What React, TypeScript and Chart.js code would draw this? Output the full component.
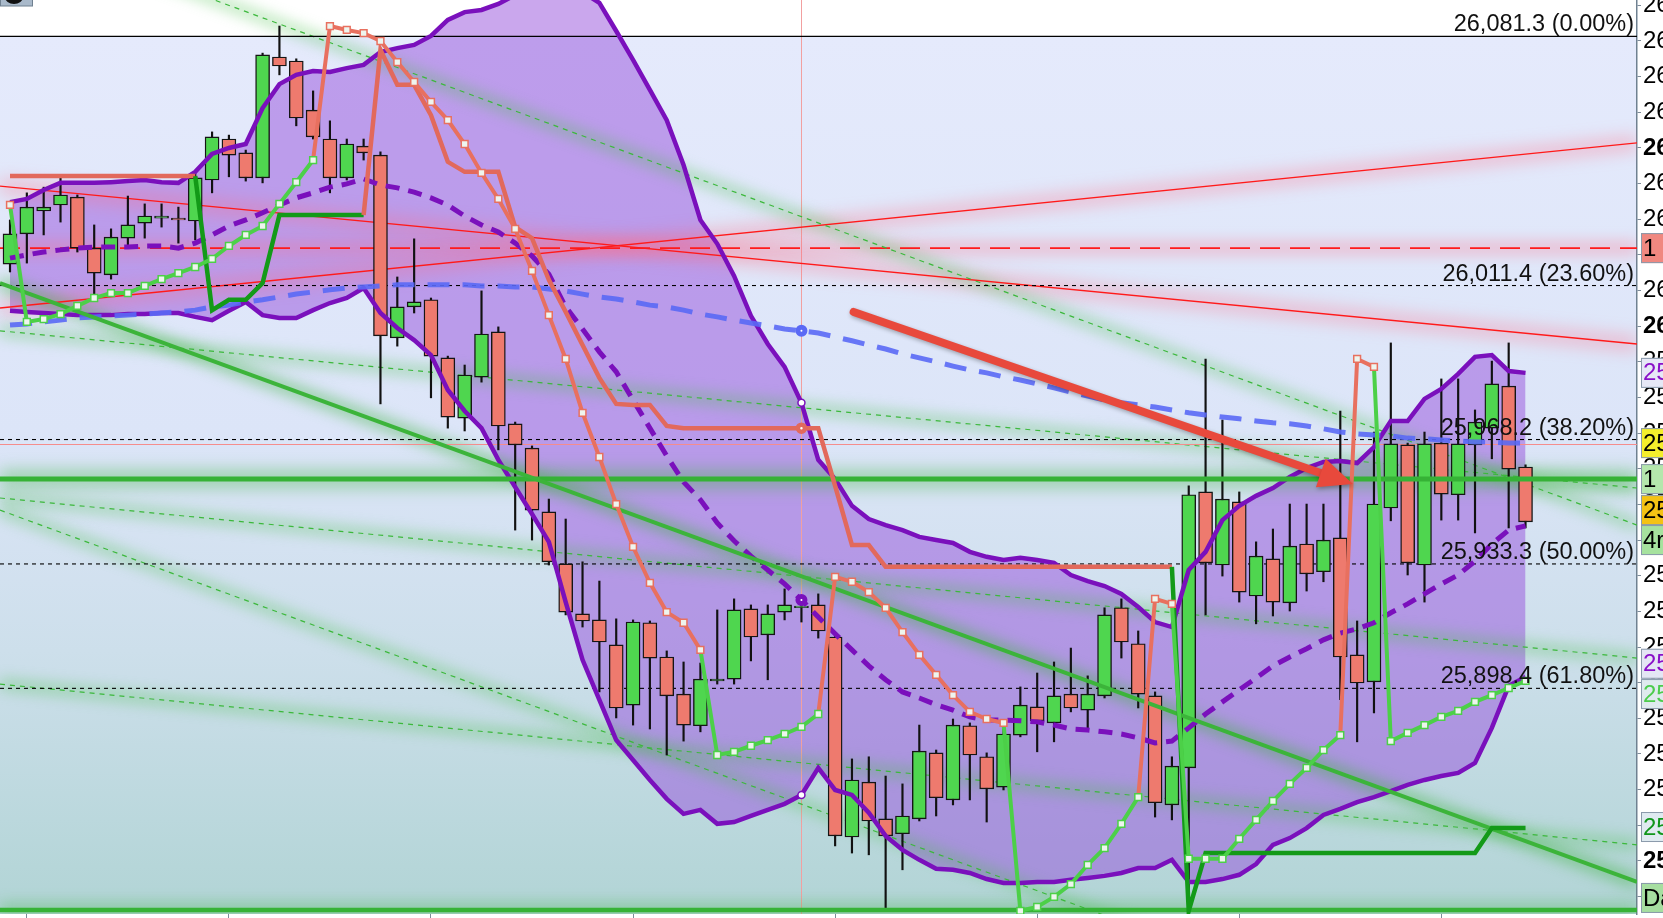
import React, { useEffect, useRef } from 'react';
import { Chart, registerables } from 'chart.js';

Chart.register(...registerables);

// ---------- candles (index 0..90) ----------
const opens = [26017.4, 26025.9, 26032.3, 26034.0, 26036.2, 26021.9, 26014.4, 26024.7, 26028.9, 26030.3,
  26030.3, 26029.5, 26041.0, 26052.5, 26048.6, 26041.6, 26075.5, 26074.4, 26060.6, 26052.5,
  26041.6, 26050.5, 26048.0, 25996.7, 26005.4, 26007.4, 25991.1, 25974.2, 25985.7, 25998.4,
  25972.6, 25965.8, 25947.9, 25933.3, 25919.3, 25917.6, 25910.6, 25893.7, 25916.8, 25907.2,
  25896.8, 25887.9, 25900.5, 25901.0, 25920.7, 25913.4, 25919.8, 25921.0, 25921.8, 25912.8,
  25856.7, 25872.1, 25861.8, 25857.6, 25861.8, 25880.3, 25867.1, 25887.9, 25879.2, 25870.7,
  25885.3, 25893.2, 25888.7, 25896.8, 25892.3, 25896.3, 25921.0, 25910.9, 25896.3, 25865.7,
  25876.1, 25953.5, 25933.0, 25950.7, 25924.3, 25934.7, 25922.4, 25938.9, 25931.1, 25940.6,
  25907.8, 25900.2, 25949.0, 25966.7, 25933.0, 25967.2, 25952.7, 25966.7, 25971.4, 25983.2,
  25960.5];
const highs = [26029.8, 26037.4, 26039.0, 26041.6, 26036.8, 26028.4, 26027.3, 26036.5, 26034.3, 26034.3,
  26033.4, 26043.0, 26054.5, 26053.6, 26049.4, 26076.6, 26084.2, 26075.0, 26066.0, 26057.6,
  26052.5, 26052.5, 26048.9, 26013.8, 26024.5, 26007.9, 25991.6, 25989.1, 26009.9, 25999.8,
  25973.1, 25966.4, 25951.5, 25945.9, 25933.9, 25928.5, 25917.9, 25917.6, 25917.3, 25908.9,
  25905.8, 25905.5, 25920.4, 25923.5, 25921.8, 25921.8, 25926.3, 25923.2, 25924.9, 25913.4,
  25878.6, 25879.2, 25873.8, 25871.6, 25888.1, 25881.1, 25889.8, 25888.7, 25880.3, 25888.1,
  25898.8, 25902.7, 25905.8, 25909.7, 25901.9, 25921.0, 25923.5, 25914.5, 25897.4, 25879.2,
  25955.2, 25990.8, 25973.7, 25953.5, 25939.5, 25943.1, 25950.1, 25950.1, 25950.1, 25976.2,
  25917.3, 25970.3, 25995.3, 25967.2, 25970.3, 25985.2, 25985.2, 25976.5, 25990.2, 25995.3,
  25961.1];
const lows = [26015.2, 26017.7, 26025.6, 26029.2, 26020.8, 26008.2, 26013.2, 26021.9, 26024.7, 26027.8,
  26023.3, 26024.2, 26037.4, 26041.9, 26040.7, 26040.2, 26070.5, 26056.2, 26052.5, 26037.4,
  26041.0, 26046.6, 25978.2, 25994.4, 26003.7, 25979.9, 25971.4, 25970.6, 25984.3, 25965.3,
  25942.8, 25940.0, 25933.0, 25919.0, 25915.6, 25897.4, 25890.1, 25888.1, 25887.0, 25879.7,
  25883.6, 25886.2, 25899.6, 25899.6, 25906.1, 25900.8, 25917.6, 25917.0, 25912.5, 25854.2,
  25852.2, 25851.7, 25836.2, 25847.5, 25861.2, 25862.6, 25865.7, 25867.1, 25860.9, 25869.9,
  25884.8, 25880.6, 25883.4, 25891.8, 25887.0, 25895.7, 25906.9, 25892.9, 25862.3, 25861.5,
  25837.6, 25919.0, 25929.9, 25922.6, 25916.5, 25918.7, 25920.1, 25925.7, 25928.3, 25895.2,
  25883.4, 25891.5, 25945.4, 25930.2, 25922.6, 25945.6, 25945.6, 25942.0, 25962.8, 25943.4,
  25943.4];
const closes = [26025.9, 26033.4, 26033.4, 26036.8, 26021.9, 26014.9, 26025.0, 26028.4, 26030.9, 26030.9,
  26029.8, 26041.6, 26053.1, 26048.0, 26041.6, 26076.1, 26073.0, 26058.4, 26053.1, 26041.6,
  26051.1, 26048.6, 25997.3, 26005.4, 26006.8, 25991.6, 25974.5, 25986.3, 25997.8, 25972.0,
  25966.7, 25948.4, 25933.9, 25919.8, 25917.3, 25911.4, 25892.9, 25917.0, 25906.9, 25896.3,
  25888.1, 25901.0, 25901.0, 25920.4, 25912.8, 25919.3, 25921.8, 25921.5, 25914.5, 25857.0,
  25872.7, 25861.2, 25857.0, 25862.6, 25880.8, 25867.7, 25888.1, 25879.7, 25870.2, 25885.6,
  25893.7, 25889.3, 25896.3, 25892.9, 25896.8, 25919.0, 25911.4, 25896.8, 25866.3, 25876.6,
  25952.7, 25933.6, 25951.5, 25925.4, 25935.5, 25922.6, 25938.3, 25930.5, 25940.0, 25907.2,
  25899.9, 25950.1, 25967.0, 25933.6, 25967.0, 25952.9, 25967.0, 25973.1, 25983.8, 25959.9,
  25945.1];

// ---------- indicators ----------
const bbUpper = [26034.8, 26035.7, 26038.2, 26040.2, 26040.2, 26040.2, 26040.4, 26040.7, 26041.0, 26040.4,
  26040.2, 26043.3, 26048.3, 26050.0, 26051.1, 26061.2, 26067.9, 26070.5, 26071.6, 26071.3,
  26072.4, 26073.3, 26076.9, 26078.0, 26078.9, 26081.4, 26085.9, 26088.1, 26088.7, 26090.4,
  26092.9, 26094.9, 26095.7, 26095.4, 26093.7, 26090.7, 26082.8, 26074.7, 26066.3, 26057.8,
  26045.2, 26029.8, 26023.1, 26014.1, 26002.9, 25995.0, 25988.6, 25978.5, 25962.5, 25957.1,
  25949.6, 25945.9, 25944.2, 25942.8, 25940.9, 25940.0, 25939.2, 25936.7, 25935.3, 25934.4,
  25935.0, 25934.4, 25933.6, 25930.2, 25928.5, 25927.1, 25924.9, 25921.2, 25917.0, 25915.6,
  25931.6, 25936.7, 25945.6, 25949.6, 25952.4, 25954.6, 25957.7, 25960.2, 25961.9, 25962.2,
  25961.6, 25966.1, 25973.4, 25973.4, 25979.6, 25982.4, 25986.6, 25991.4, 25991.9, 25987.4,
  25986.9];
const bbMiddle = [26019.1, 26020.0, 26020.8, 26021.4, 26021.9, 26022.2, 26022.2, 26022.2, 26022.5, 26022.5,
  26021.9, 26023.3, 26025.6, 26028.1, 26029.8, 26031.8, 26034.0, 26036.0, 26037.4, 26039.0,
  26039.9, 26041.3, 26039.6, 26038.8, 26037.6, 26036.0, 26034.0, 26030.9, 26028.4, 26026.4,
  26023.3, 26019.7, 26014.6, 26005.4, 25999.2, 25992.8, 25987.2, 25979.3, 25971.4, 25963.6,
  25956.3, 25951.3, 25944.8, 25939.8, 25935.5, 25931.6, 25927.7, 25923.2, 25918.4, 25913.7,
  25909.2, 25904.7, 25900.8, 25897.4, 25895.7, 25893.8, 25892.3, 25890.4, 25889.5, 25889.5,
  25889.3, 25889.0, 25888.1, 25887.0, 25886.7, 25886.2, 25885.6, 25884.5, 25883.1, 25883.6,
  25887.3, 25891.2, 25894.6, 25898.0, 25901.3, 25904.7, 25907.2, 25909.5, 25912.0, 25913.9,
  25915.1, 25916.8, 25919.6, 25922.1, 25924.9, 25927.7, 25930.2, 25934.1, 25938.9, 25942.8,
  25944.0];
const bbLower = [26004.3, 26004.0, 26003.7, 26003.4, 26003.1, 26003.1, 26003.1, 26003.4, 26003.4, 26003.7,
  26003.7, 26002.6, 26001.7, 26004.3, 26006.8, 26003.1, 26002.3, 26002.3, 26004.5, 26006.5,
  26007.9, 26010.7, 26003.7, 25999.5, 25996.1, 25991.9, 25982.1, 25976.2, 25971.4, 25962.5,
  25954.9, 25947.3, 25939.5, 25922.6, 25906.4, 25895.2, 25883.9, 25878.3, 25872.7, 25867.4,
  25863.2, 25864.3, 25860.4, 25860.9, 25862.6, 25864.3, 25866.0, 25868.5, 25876.1, 25869.9,
  25868.5, 25863.5, 25857.0, 25853.1, 25850.3, 25847.8, 25847.5, 25846.6, 25844.9, 25843.8,
  25843.8, 25844.1, 25844.1, 25844.7, 25845.2, 25845.8, 25846.6, 25848.0, 25848.0, 25850.3,
  25844.1, 25844.1, 25844.9, 25846.1, 25849.1, 25854.5, 25856.4, 25859.2, 25862.9, 25864.6,
  25866.5, 25867.9, 25869.6, 25871.3, 25872.7, 25873.8, 25874.7, 25877.5, 25887.3, 25899.1,
  25901.6];
const maLong = [26000.3, 26000.6, 26001.2, 26001.7, 26002.3, 26002.6, 26002.9, 26003.1, 26003.4, 26003.7,
  26004.0, 26004.5, 26005.4, 26005.9, 26006.8, 26007.4, 26008.2, 26009.0, 26009.6, 26010.2,
  26010.7, 26011.0, 26011.3, 26011.6, 26011.6, 26011.6, 26011.6, 26011.6, 26011.3, 26011.3,
  26011.0, 26011.0, 26010.4, 26009.9, 26009.0, 26008.2, 26007.6, 26006.8, 26005.9, 26005.4,
  26004.5, 26003.4, 26002.6, 26001.7, 26000.9, 26000.1, 25999.2, 25998.7, 25998.1, 25997.0,
  25995.9, 25994.7, 25993.6, 25992.2, 25991.1, 25990.0, 25988.8, 25987.7, 25986.9, 25985.8,
  25984.9, 25983.8, 25982.7, 25981.5, 25980.4, 25979.3, 25978.5, 25977.9, 25977.3, 25976.5,
  25975.7, 25975.1, 25974.5, 25974.0, 25973.4, 25972.9, 25972.6, 25972.0, 25971.2, 25970.3,
  25969.8, 25969.5, 25969.2, 25968.6, 25968.4, 25968.1, 25967.8, 25967.5, 25967.5, 25967.2,
  25967.2];
const superTrend = [26042.1, 26042.1, 26042.1, 26042.1, 26042.1, 26042.1, 26042.1, 26042.1, 26042.1, 26042.1,
  26042.1, 26042.1, 26004.5, 26007.4, 26007.4, 26012.1, 26031.2, 26031.2, 26031.2, 26031.2,
  26031.2, 26031.2, 26077.5, 26067.7, 26067.7, 26059.2, 26046.1, 26043.3, 26043.3, 26043.3,
  26027.8, 26024.7, 26013.0, 26004.0, 25994.7, 25985.5, 25978.2, 25977.9, 25977.9, 25972.0,
  25971.4, 25971.4, 25971.4, 25971.4, 25971.4, 25971.4, 25971.4, 25971.4, 25971.4, 25955.2,
  25938.6, 25938.6, 25932.5, 25932.5, 25932.5, 25932.5, 25932.5, 25932.5, 25932.5, 25932.5,
  25932.5, 25932.5, 25932.5, 25932.5, 25932.5, 25932.5, 25932.5, 25932.5, 25932.5, 25932.5,
  25836.0, 25852.2, 25852.2, 25852.2, 25852.2, 25852.2, 25852.2, 25852.2, 25852.2, 25852.2,
  25852.2, 25852.2, 25852.2, 25852.2, 25852.2, 25852.2, 25852.2, 25852.2, 25859.2, 25859.2,
  25859.2];
const sar = [26034.0, 26001.2, 26002.0, 26003.4, 26005.7, 26007.9, 26009.3, 26009.3, 26011.3, 26013.2,
  26014.9, 26016.6, 26018.9, 26022.5, 26025.6, 26028.1, 26034.3, 26040.4, 26046.6, 26084.2,
  26083.1, 26082.2, 26080.0, 26074.1, 26068.5, 26062.9, 26057.8, 26051.1, 26043.0, 26035.7,
  26027.3, 26015.5, 26003.1, 25990.8, 25975.7, 25963.3, 25950.1, 25938.1, 25928.0, 25919.8,
  25916.8, 25909.2, 25879.7, 25880.6, 25882.3, 25883.9, 25885.6, 25887.6, 25891.2, 25929.7,
  25928.3, 25925.4, 25921.0, 25914.2, 25907.8, 25902.2, 25896.5, 25891.8, 25889.8, 25888.7,
  25836.0, 25837.1, 25839.9, 25843.5, 25848.9, 25853.6, 25860.4, 25867.9, 25923.5, 25922.1,
  25850.6, 25850.6, 25850.6, 25856.2, 25861.5, 25866.8, 25871.6, 25876.1, 25881.1, 25885.3,
  25990.8, 25988.6, 25883.6, 25885.9, 25888.1, 25890.4, 25892.1, 25894.6, 25896.5, 25898.5,
  25900.5];

// ---------- axes ----------
const xMin = -0.594;
const xMax = 96.62;
const yMin = 25835.1;
const yMax = 26091.5;
const xTicks = [1, 13, 25, 37, 49, 61, 73, 85];
const yTicks = [25840, 25850, 25860, 25870, 25880, 25890, 25900, 25910, 25920, 25930, 25940, 25950, 25960,
  25970, 25980, 25990, 26000, 26010, 26020, 26030, 26040, 26050, 26060, 26070, 26080, 26090];

// ---------- drawings (values at left / right edge) ----------
const trendGreen = [26012.1, 25844.1];
const levelGreen = 25957.1;
const levelGreenLow = 25836.2;
const redRise = [26005.1, 26051.4];
const redFall = [26039.3, 25995.0];
const redDashLevel = 26021.9;
const pinkLevel = 25966.8;
const greenDashA = [26113.7, 25944.2];
const greenDashB = [25998.7, 25954.6];
const greenDashC = [25951.8, 25906.9];
const greenDashD = [25948.4, 25779.9];
const greenDashE = [25899.6, 25854.5];
const fibValues = [26081.3, 26011.4, 25968.2, 25933.3, 25898.4];
const fibPercents = [0, 23.6, 38.2, 50, 61.8];
const arrowFrom = [50.1, 26004.0];
const arrowTo = [79.75, 25955.7];
const crosshairIndex = 47;

// right-edge price boxes
const boxValues = [26021.9, 25986.9, 25967.2, 25957.1, 25948.4, 25940.0, 25905.3, 25896.8, 25859.5, 25839.6];
const boxTexts = ['1', '25', '25', '1', '25', '4r', '25', '25', '25', 'Da'];
const boxFills = ['#f08880', '#e6e8f6', '#f4ee2c', '#b4e6ac', '#f4c214', '#a6e29e', '#e4e6f4', '#dfeaee', '#dfeaf0', '#a6dea0'];
const boxTextColors = ['#000', '#8a10c8', '#000', '#000', '#000', '#000', '#8a10c8', '#4ccc4c', '#10961a', '#000'];

const FONT = '"Liberation Sans", Arial, sans-serif';
const SALMON = '#e2695c';
const LGREEN = '#4cd048';
const DGREEN = '#139a18';
const PURPLE = '#7a10bc';

const zeroPad = (s: any) => {
  s.paddingTop = 0;
  s.paddingBottom = 0;
  s.paddingLeft = 0;
  s.paddingRight = 0;
};

export default function App() {
  const ref = useRef<HTMLCanvasElement>(null);

  useEffect(() => {
    const canvas = ref.current;
    if (!canvas) return;
    Chart.defaults.font.family = FONT;

    const pts = (arr: number[]) => arr.map((v, i) => ({ x: i, y: v }));
    const span = (a: number, b: number) => [{ x: xMin, y: a }, { x: xMax, y: b }];
    const isUp = (i: number) => closes[i] >= opens[i];
    const sarAbove = (i: number) => sar[i] > closes[i];
    const stAbove = (i: number) => superTrend[i] > closes[i];
    const dotR = (c: any) => (c.dataIndex === crosshairIndex ? 3.5 : 0);

    const glowDs = (data: any, color: string, width: number, blur: number) => ({
      type: 'line', data, borderColor: color, borderWidth: width, pointRadius: 0, fill: false, glow: blur, order: 100,
    });
    const lineDs = (data: any, color: string, width: number, extra: any = {}) => ({
      type: 'line', data, borderColor: color, borderWidth: width, pointRadius: 0, fill: false, tension: 0, ...extra,
    });

    const gGlow = 'rgba(70,190,70,0.36)';
    const rGlow = 'rgba(255,105,130,0.32)';
    const dashedGreens = [greenDashA, greenDashB, greenDashC, greenDashD, greenDashE];

    const datasets: any[] = [
      // Bollinger fill (upper -> lower)
      lineDs(pts(bbUpper), PURPLE, 4.5, {
        fill: '+1', backgroundColor: 'rgba(150,80,220,0.5)', order: 47,
        pointRadius: dotR, pointBackgroundColor: '#fff', pointBorderColor: PURPLE, pointBorderWidth: 1.5,
      }),
      lineDs(pts(bbLower), PURPLE, 4.5, {
        order: 47, pointRadius: dotR, pointBackgroundColor: '#fff', pointBorderColor: PURPLE, pointBorderWidth: 1.5,
      }),
      // glows
      glowDs(span(trendGreen[0], trendGreen[1]), 'rgba(60,180,60,0.45)', 14, 7),
      glowDs(span(levelGreen, levelGreen), 'rgba(60,180,60,0.4)', 18, 8),
      glowDs(span(levelGreenLow, levelGreenLow), 'rgba(60,180,60,0.35)', 14, 7),
      ...dashedGreens.map((d) => glowDs(span(d[0], d[1]), gGlow, 11, 7)),
      glowDs(span(redRise[0], redRise[1]), rGlow, 16, 8),
      glowDs(span(redFall[0], redFall[1]), rGlow, 16, 8),
      glowDs(span(redDashLevel, redDashLevel), rGlow, 14, 7),
      // thin green dashed trend lines
      ...dashedGreens.map((d) => lineDs(span(d[0], d[1]), '#3cb83c', 1.2, { borderDash: [5, 5], order: 85 })),
      // red lines
      lineDs(span(redRise[0], redRise[1]), '#ff1a1a', 1.3, { order: 85 }),
      lineDs(span(redFall[0], redFall[1]), '#ff1a1a', 1.3, { order: 85 }),
      lineDs(span(redDashLevel, redDashLevel), '#ff1a1a', 1.6, { borderDash: [20, 10], order: 85 }),
      lineDs(span(pinkLevel, pinkLevel), '#f58c8c', 1.2, { order: 84 }),
      // fib levels
      ...fibValues.map((v, k) => lineDs(span(v, v), '#000', 1.1, { borderDash: k === 0 ? [] : [4, 4], order: 84 })),
      // candles
      {
        type: 'bar', data: opens.map((_, i) => ({ x: i, y: [lows[i], highs[i]] })),
        backgroundColor: '#111', borderWidth: 0, barThickness: 1.5, grouped: false, order: 60,
      },
      {
        type: 'bar', data: opens.map((o, i) => ({ x: i, y: [o, closes[i]] })),
        backgroundColor: opens.map((_, i) => (isUp(i) ? '#4fd64f' : '#ee7a6e')),
        borderColor: '#151515', borderWidth: 1.4, borderSkipped: false, barThickness: 14, grouped: false, order: 59,
      },
      // Bollinger middle, long MA
      lineDs(pts(bbMiddle), PURPLE, 5, {
        borderDash: [14, 9], order: 46, pointRadius: dotR, pointBackgroundColor: '#fff', pointBorderColor: PURPLE,
      }),
      lineDs(pts(maLong), 'rgba(90,105,245,0.9)', 5, {
        borderDash: [22, 13], order: 45, pointRadius: dotR, pointBackgroundColor: '#fff', pointBorderColor: '#5a69f5',
      }),
      // thick green lines
      lineDs(span(trendGreen[0], trendGreen[1]), '#3cb43a', 4, { order: 44 }),
      lineDs(span(levelGreen, levelGreen), '#36b236', 5, { order: 44 }),
      lineDs(span(levelGreenLow, levelGreenLow), '#36b236', 4.5, { order: 44 }),
      // supertrend
      lineDs(pts(superTrend), SALMON, 4.5, {
        order: 40,
        segment: { borderColor: (c: any) => (stAbove(c.p1DataIndex) ? SALMON : DGREEN) },
        pointRadius: dotR, pointBackgroundColor: '#fff', pointBorderColor: SALMON,
      }),
      // parabolic SAR
      lineDs(pts(sar), SALMON, 4, {
        order: 39,
        segment: { borderColor: (c: any) => (sarAbove(c.p1DataIndex) ? '#e8705f' : LGREEN) },
        pointStyle: 'rect', pointRadius: 4.8,
        pointBackgroundColor: '#eef5ee',
        pointBorderColor: (c: any) => (sarAbove(c.dataIndex) ? '#e8705f' : LGREEN),
        pointBorderWidth: 1.5,
      }),
    ];

    const overlay = {
      id: 'overlay',
      beforeDraw(chart: any) {
        const { ctx, chartArea: a, scales } = chart;
        const yTop = scales.y.getPixelForValue(fibValues[0]);
        ctx.save();
        ctx.fillStyle = '#ffffff';
        ctx.fillRect(a.left, a.top, a.right - a.left, yTop - a.top);
        const g = ctx.createLinearGradient(0, yTop, 0, a.bottom);
        g.addColorStop(0, '#e5eafc');
        g.addColorStop(0.45, '#dce5f8');
        g.addColorStop(0.7, '#cddfeb');
        g.addColorStop(1, '#b1d4d5');
        ctx.fillStyle = g;
        ctx.fillRect(a.left, yTop, a.right - a.left, a.bottom - yTop);
        ctx.restore();
      },
      beforeDatasetsDraw(chart: any) {
        const { ctx, chartArea: a, scales } = chart;
        const x = scales.x.getPixelForValue(crosshairIndex);
        ctx.save();
        ctx.strokeStyle = '#f2a0a0';
        ctx.lineWidth = 1;
        ctx.beginPath();
        ctx.moveTo(Math.round(x) + 0.5, a.top);
        ctx.lineTo(Math.round(x) + 0.5, a.bottom);
        ctx.stroke();
        ctx.restore();
      },
      beforeDatasetDraw(chart: any, args: any) {
        const ds = chart.data.datasets[args.index];
        if (ds.glow) {
          chart.ctx.save();
          chart.ctx.filter = `blur(${ds.glow}px)`;
        }
      },
      afterDatasetDraw(chart: any, args: any) {
        const ds = chart.data.datasets[args.index];
        if (ds.glow) {
          chart.ctx.filter = 'none';
          chart.ctx.restore();
        }
      },
      afterDatasetsDraw(chart: any) {
        const { ctx, chartArea: a, scales } = chart;
        ctx.save();
        // fib labels
        ctx.font = `23.5px ${FONT}`;
        ctx.textAlign = 'right';
        ctx.textBaseline = 'alphabetic';
        ctx.fillStyle = '#111';
        fibValues.forEach((v, k) => {
          const y = scales.y.getPixelForValue(v);
          const txt = `${v.toLocaleString('en-US', { minimumFractionDigits: 1, maximumFractionDigits: 1 })} (${fibPercents[k].toFixed(2)}%)`;
          ctx.fillText(txt, a.right - 3, y - 5);
        });
        // arrow
        const x1 = scales.x.getPixelForValue(arrowFrom[0]);
        const y1 = scales.y.getPixelForValue(arrowFrom[1]);
        const x2 = scales.x.getPixelForValue(arrowTo[0]);
        const y2 = scales.y.getPixelForValue(arrowTo[1]);
        const ang = Math.atan2(y2 - y1, x2 - x1);
        const hl = 34, hw = 15;
        const bx = x2 - hl * Math.cos(ang);
        const by = y2 - hl * Math.sin(ang);
        ctx.shadowColor = 'rgba(0,0,0,0.3)';
        ctx.shadowBlur = 4;
        ctx.shadowOffsetX = 1;
        ctx.shadowOffsetY = 2;
        ctx.strokeStyle = '#e8493c';
        ctx.fillStyle = '#e8493c';
        ctx.lineWidth = 8;
        ctx.lineCap = 'round';
        ctx.beginPath();
        ctx.moveTo(x1, y1);
        ctx.lineTo(bx + 2 * Math.cos(ang), by + 2 * Math.sin(ang));
        ctx.stroke();
        ctx.beginPath();
        ctx.moveTo(x2, y2);
        ctx.lineTo(bx + hw * Math.sin(ang), by - hw * Math.cos(ang));
        ctx.lineTo(bx - hw * Math.sin(ang), by + hw * Math.cos(ang));
        ctx.closePath();
        ctx.fill();
        ctx.restore();
      },
      afterDraw(chart: any) {
        const { ctx, chartArea: a, scales } = chart;
        ctx.save();
        const bx = a.right + 4;
        boxValues.forEach((v, k) => {
          const yc = scales.y.getPixelForValue(v);
          ctx.fillStyle = boxFills[k];
          ctx.fillRect(bx, yc - 15, 40, 30);
          ctx.strokeStyle = '#8a9aab';
          ctx.lineWidth = 1;
          ctx.strokeRect(bx + 0.5, yc - 14.5, 40, 29);
          ctx.fillStyle = boxTextColors[k];
          ctx.font = `24px ${FONT}`;
          ctx.textAlign = 'left';
          ctx.textBaseline = 'middle';
          ctx.fillText(boxTexts[k], bx + 2, yc + 1);
        });
        // partial toolbar button at top-left
        ctx.fillStyle = '#a9b9ca';
        ctx.strokeStyle = '#6f8090';
        ctx.fillRect(0, 0, 33, 6);
        ctx.strokeRect(0.5, -1, 32, 7);
        ctx.fillStyle = '#111';
        ctx.beginPath();
        ctx.ellipse(14, -3, 9, 7, 0, 0, Math.PI * 2);
        ctx.fill();
        ctx.restore();
      },
    };

    const chart = new Chart(canvas, {
      type: 'line',
      data: { datasets } as any,
      options: {
        responsive: false,
        animation: false,
        events: [],
        layout: { padding: 0, autoPadding: false },
        plugins: {
          legend: { display: false },
          tooltip: { enabled: false },
          filler: { drawTime: 'beforeDatasetsDraw' },
        } as any,
        scales: {
          x: {
            type: 'linear', min: xMin, max: xMax, offset: false, position: 'bottom',
            grid: { display: true, drawOnChartArea: false, drawTicks: true, tickLength: 4, color: '#7d8b99', offset: false },
            border: { display: false },
            ticks: { display: false },
            afterBuildTicks: (s: any) => { s.ticks = xTicks.map((v) => ({ value: v })); },
            afterFit: (s: any) => { s.height = 4; zeroPad(s); },
          },
          y: {
            type: 'linear', position: 'right', min: yMin, max: yMax,
            grid: { drawOnChartArea: false, drawTicks: true, tickLength: 4, color: '#7d8b99' },
            border: { display: true, color: '#6f8191', width: 1.5 },
            ticks: {
              color: '#000', padding: 2,
              font: (c: any) => ({ family: FONT, size: 24, weight: c.tick && c.tick.value % 50 === 0 ? 'bold' : 'normal' }),
              callback: (v: any) => Number(v).toLocaleString('en-US', { minimumFractionDigits: 1, maximumFractionDigits: 1 }),
            },
            afterBuildTicks: (s: any) => { s.ticks = yTicks.map((v) => ({ value: v })); },
            afterFit: (s: any) => { s.width = 26; zeroPad(s); },
          },
        } as any,
      },
      plugins: [overlay],
    } as any);

    return () => chart.destroy();
  }, []);

  return (
    <div style={{ position: 'fixed', left: 0, top: 0, width: 1663, height: 918, background: '#fff' }}>
      <canvas ref={ref} width={1663} height={918} style={{ display: 'block' }} />
    </div>
  );
}
